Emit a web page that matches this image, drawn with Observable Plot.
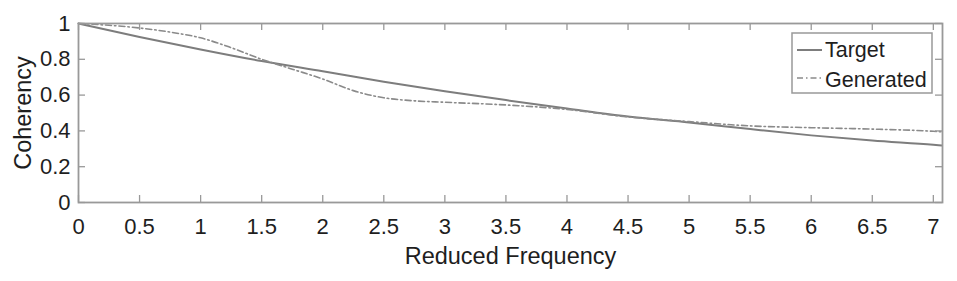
<!DOCTYPE html>
<html>
<head>
<meta charset="utf-8">
<script src="https://cdn.jsdelivr.net/npm/d3@7"></script>
<script src="https://cdn.jsdelivr.net/npm/@observablehq/plot@0.6"></script>
<style>
  html, body { margin: 0; padding: 0; background: #fff; }
  #wrap { position: relative; width: 957px; height: 281px; }
  #legend { position: absolute; left: 791px; top: 32px; }
  #legend text { font-family: "Liberation Sans", Arial, sans-serif; font-size: 21.5px; fill: #1e1e1e; }
</style>
</head>
<body>
<div id="wrap"><div id="chart"></div>
  <svg id="legend" width="142" height="62">
    <rect x="1" y="1" width="140" height="60" fill="#fff" stroke="#999" stroke-width="1.5"/>
    <line x1="6" y1="18" x2="31" y2="18" stroke="#7d7d7d" stroke-width="2"/>
    <text x="34" y="25">Target</text>
    <line x1="6" y1="46" x2="31" y2="46" stroke="#8a8a8a" stroke-width="1.6" stroke-dasharray="6,3,1.5,3"/>
    <text x="34" y="55">Generated</text>
  </svg>
</div>
<script>
const xTicks = [0, 0.5, 1, 1.5, 2, 2.5, 3, 3.5, 4, 4.5, 5, 5.5, 6, 6.5, 7];
const yTicks = [0, 0.2, 0.4, 0.6, 0.8, 1];

const targetFreq = [0, 0.5, 1, 1.5, 2, 2.5, 3, 3.5, 4, 4.5, 5, 5.5, 6, 6.5, 7, 7.07];
const targetCoh  = [1, 0.925, 0.855, 0.79, 0.733, 0.675, 0.622, 0.572, 0.525, 0.48, 0.447, 0.41, 0.375, 0.346, 0.322, 0.318];

const genFreq = [0, 0.25, 0.5, 0.75, 1, 1.25, 1.5, 1.75, 2, 2.25, 2.5, 2.75, 3, 3.5, 4, 4.5, 5, 5.5, 6, 6.5, 7, 7.07];
const genCoh  = [1, 0.99, 0.975, 0.952, 0.92, 0.865, 0.80, 0.745, 0.69, 0.625, 0.585, 0.568, 0.56, 0.545, 0.52, 0.478, 0.452, 0.428, 0.418, 0.41, 0.398, 0.395];

const target = targetFreq.map((f, i) => ({f, c: targetCoh[i]}));
const generated = genFreq.map((f, i) => ({f, c: genCoh[i]}));

const W = 957, H = 281, mt = 23, mb = 79, ml = 78, mr = 15;
const plotH = H - mt - mb, plotW = W - ml - mr;
const tl = 7;
const font = "Liberation Sans, Arial, sans-serif";

const chart = Plot.plot({
  width: W, height: H,
  marginTop: mt, marginBottom: mb, marginLeft: ml, marginRight: mr,
  style: {fontFamily: font, fontSize: "22px", color: "#1e1e1e", background: "#fff", overflow: "visible"},
  x: {domain: [0, 7.075]},
  y: {domain: [0, 1]},
  marks: [
    Plot.line(target, {x: "f", y: "c", stroke: "#7d7d7d", strokeWidth: 2, curve: "monotone-x"}),
    Plot.line(generated, {x: "f", y: "c", stroke: "#8a8a8a", strokeWidth: 1.6, strokeDasharray: "6,3,1.5,3", curve: "monotone-x"}),
    Plot.tickX(xTicks, {x: d => d, insetTop: plotH - tl, stroke: "#999", strokeWidth: 1.3}),
    Plot.tickX(xTicks, {x: d => d, insetBottom: plotH - tl, stroke: "#999", strokeWidth: 1.3}),
    Plot.tickY(yTicks, {y: d => d, insetRight: plotW - tl, stroke: "#999", strokeWidth: 1.3}),
    Plot.tickY(yTicks, {y: d => d, insetLeft: plotW - tl, stroke: "#999", strokeWidth: 1.3}),
    Plot.frame({stroke: "#999", strokeWidth: 1.8}),
    Plot.axisX(xTicks, {tickSize: 0, tickPadding: 16, label: null, tickFormat: d => String(d), fill: "#1e1e1e"}),
    Plot.axisY(yTicks, {tickSize: 0, tickPadding: 8, label: null, tickFormat: d => String(d), fill: "#1e1e1e"}),
    Plot.text(["Reduced Frequency"], {frameAnchor: "bottom", lineAnchor: "middle", textAnchor: "middle", dy: 53.5, text: d => d, fontSize: 23.5, fill: "#1e1e1e"}),
    Plot.text(["Coherency"], {frameAnchor: "left", lineAnchor: "middle", textAnchor: "middle", dx: -55.5, rotate: -90, text: d => d, fontSize: 23.5, fill: "#1e1e1e"})
  ]
});
document.getElementById("chart").appendChild(chart);
</script>
</body>
</html>
